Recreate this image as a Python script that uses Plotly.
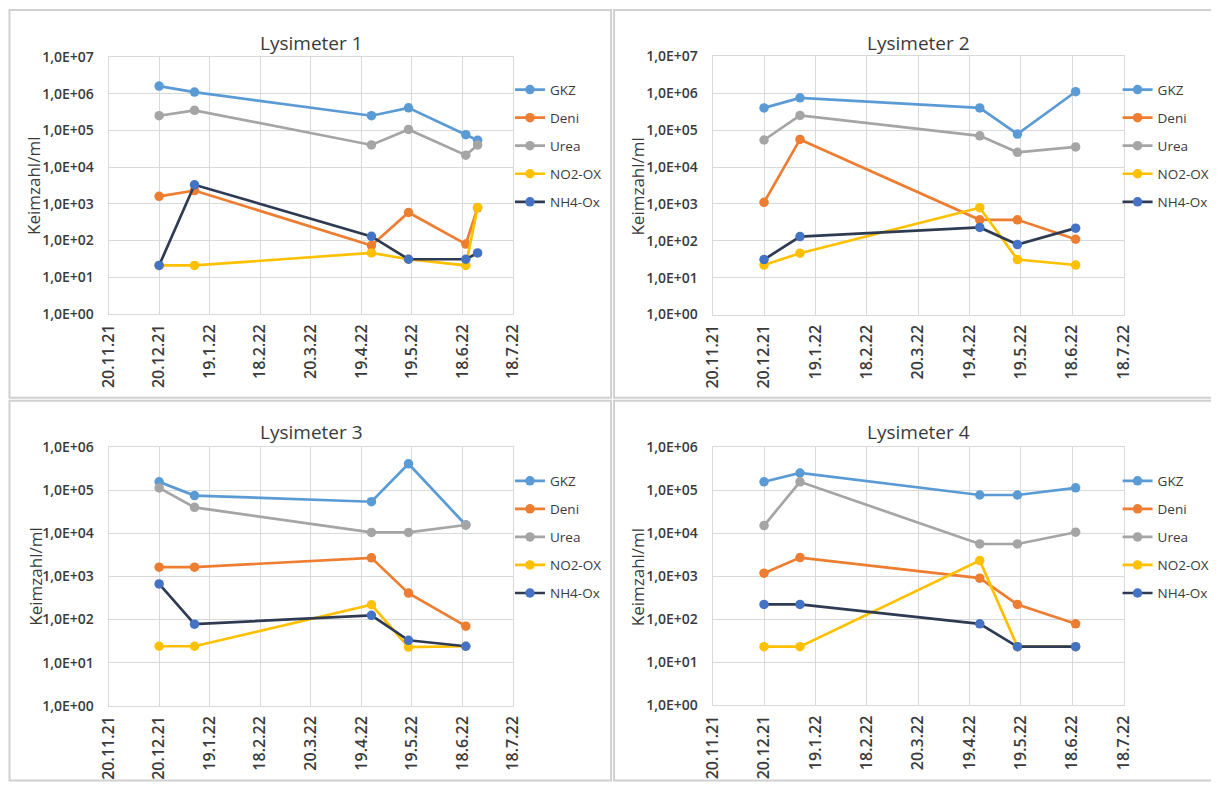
import plotly.graph_objects as go

# ---------------- data ----------------
series_names = ["GKZ", "Deni", "Urea", "NO2-OX", "NH4-Ox"]
line_colors = ["#5B9BD5", "#ED7D31", "#A5A5A5", "#FFC000", "#2F3B52"]
marker_colors = ["#5B9BD5", "#ED7D31", "#A5A5A5", "#FFC000", "#4472C4"]

tick_dates = ["2021-11-20", "2021-12-20", "2022-01-19", "2022-02-18", "2022-03-20",
              "2022-04-19", "2022-05-19", "2022-06-18", "2022-07-18"]
tick_labels = ["20.11.21", "20.12.21", "19.1.22", "18.2.22", "20.3.22",
               "19.4.22", "19.5.22", "18.6.22", "18.7.22"]

# Lysimeter 1
L1_dates = ["2021-12-20", "2022-01-10", "2022-04-25", "2022-05-17", "2022-06-20", "2022-06-27"]
L1_GKZ = [1.6e6, 1.1e6, 2.5e5, 4.1e5, 7.6e4, 5.4e4]
L1_Deni = [1.6e3, 2.3e3, 73, 5.8e2, 80, 7.8e2]
L1_Urea = [2.5e5, 3.5e5, 4.0e4, 1.06e5, 2.1e4, 4.0e4]
L1_NO2 = [21, 21, 46, 31, 21, 8.0e2]
L1_NH4 = [21, 3.3e3, 1.3e2, 31, 31, 46]

# Lysimeter 2
L2_dates = ["2021-12-20", "2022-01-10", "2022-04-25", "2022-05-17", "2022-06-20"]
L2_GKZ = [4.0e5, 7.5e5, 4.0e5, 7.8e4, 1.1e6]
L2_Deni = [1.1e3, 5.6e4, 3.7e2, 3.7e2, 1.1e2]
L2_Urea = [5.4e4, 2.5e5, 7.0e4, 2.5e4, 3.5e4]
L2_NO2 = [22, 46, 7.9e2, 31, 22]
L2_NH4 = [31, 1.3e2, 2.3e2, 79, 2.2e2]

# Lysimeter 3
L3_dates = ["2021-12-20", "2022-01-10", "2022-04-25", "2022-05-17", "2022-06-20"]
L3_GKZ = [1.56e5, 7.5e4, 5.4e4, 4.1e5, 1.56e4]
L3_Deni = [1.64e3, 1.64e3, 2.7e3, 4.1e2, 70]
L3_Urea = [1.13e5, 4.0e4, 1.05e4, 1.05e4, 1.56e4]
L3_NO2 = [24, 24, 2.2e2, 23, 24]
L3_NH4 = [6.7e2, 78, 1.25e2, 33, 24]

# Lysimeter 4
L4_dates = ["2021-12-20", "2022-01-10", "2022-04-25", "2022-05-17", "2022-06-20"]
L4_GKZ = [1.56e5, 2.5e5, 7.7e4, 7.7e4, 1.13e5]
L4_Deni = [1.17e3, 2.7e3, 9.0e2, 2.2e2, 78]
L4_Urea = [1.5e4, 1.56e5, 5.6e3, 5.6e3, 1.05e4]
L4_NO2 = [23, 23, 2.3e3, 23, 23]
L4_NH4 = [2.2e2, 2.2e2, 78, 23, 23]

titles = ["Lysimeter 1", "Lysimeter 2", "Lysimeter 3", "Lysimeter 4"]
y_max_exp = [7, 7, 6, 6]
y_title = "Keimzahl/ml"

panels = [
    (L1_dates, [L1_GKZ, L1_Deni, L1_Urea, L1_NO2, L1_NH4]),
    (L2_dates, [L2_GKZ, L2_Deni, L2_Urea, L2_NO2, L2_NH4]),
    (L3_dates, [L3_GKZ, L3_Deni, L3_Urea, L3_NO2, L3_NH4]),
    (L4_dates, [L4_GKZ, L4_Deni, L4_Urea, L4_NO2, L4_NH4]),
]

# ---------------- layout helpers (target pixel geometry) ----------------
W, H = 1219, 785
OX, SX, OY, SY = 17.5, 0.981, 17.0, 0.979  # page placement compensation
def fx(p):
    return ((p - OX) / SX) / W
def fy(p):
    return 1 - ((p - OY) / SY) / H

# plot areas in target pixels: (left, right, top, bottom)
areas = [(106, 510, 56, 314), (709.5, 1120, 55.5, 314.5),
         (106, 510, 447.5, 707), (709.5, 1120, 447.5, 706.5)]
# panel frames (left, right, top, bottom)
frames = [(7, 608, 9, 398), (611, 1212, 9, 398), (7, 608, 401, 782), (611, 1212, 401, 782)]
title_pos = [(309, 42), (915, 42), (309, 432), (915, 432)]
ytitle_pos = [(31, 186), (634, 186), (33, 578), (634, 578)]
legend_pos = [(507, 73.5), (1114, 73.5), (507, 466), (1114, 466)]

FONT = "Open Sans"
TXT = "#3A3A3A"
fig = go.Figure()
layout = dict(width=W, height=H, margin=dict(l=0, r=0, t=0, b=0),
              paper_bgcolor="white", plot_bgcolor="white", showlegend=True)
annotations = []
shapes = []

for i, (dates, vals) in enumerate(panels):
    k = "" if i == 0 else str(i + 1)
    leg = "legend" if i == 0 else "legend" + str(i + 1)
    for j, name in enumerate(series_names):
        fig.add_trace(go.Scatter(
            x=dates, y=vals[j], name=name, mode="lines+markers",
            line=dict(color=line_colors[j], width=2.7),
            marker=dict(color=marker_colors[j], size=9.5),
            xaxis="x" + k, yaxis="y" + k, legend=leg,
            legendgroup=name + str(i), showlegend=True,
        ))
    l, r, t, b = areas[i]
    layout["xaxis" + k] = dict(
        domain=[fx(l), fx(r)], anchor="y" + k, type="date",
        range=[tick_dates[0], tick_dates[-1]],
        tickmode="array", tickvals=tick_dates, ticktext=tick_labels,
        tickangle=-90, showgrid=True, gridcolor="#D9D9D9", gridwidth=1,
        showline=True, linecolor="#D9D9D9", linewidth=1, mirror=True,
        ticks="", zeroline=False, ticklabelstandoff=3,
        tickfont=dict(family=FONT, size=16, color=TXT, weight=600),
    )
    e = y_max_exp[i]
    layout["yaxis" + k] = dict(
        domain=[fy(b), fy(t)], anchor="x" + k, type="log",
        range=[0, e], tickmode="array",
        tickvals=[10 ** n for n in range(e + 1)],
        ticktext=["1,0E+%02d" % n for n in range(e + 1)],
        showgrid=True, gridcolor="#D9D9D9", gridwidth=1,
        showline=True, linecolor="#D9D9D9", linewidth=1, mirror=True,
        ticks="", zeroline=False, ticklabelstandoff=11,
        tickfont=dict(family=FONT, size=14, color=TXT, weight=600),
    )
    lx, ly = legend_pos[i]
    layout[leg] = dict(x=fx(lx), y=fy(ly), xanchor="left", yanchor="top",
                       bgcolor="rgba(0,0,0,0)", tracegroupgap=7.5,
                       font=dict(family=FONT, size=13.5, color=TXT),
                       itemwidth=30)
    tx, ty = title_pos[i]
    annotations.append(dict(text=titles[i], x=fx(tx), y=fy(ty), xref="paper", yref="paper",
                            showarrow=False, xanchor="center", yanchor="middle",
                            font=dict(family=FONT, size=19, color=TXT)))
    yx, yy = ytitle_pos[i]
    annotations.append(dict(text=y_title, x=fx(yx), y=fy(yy), xref="paper", yref="paper",
                            showarrow=False, xanchor="center", yanchor="middle", textangle=-90,
                            font=dict(family=FONT, size=17, color=TXT)))
    fl, fr, ft, fb = frames[i]
    shapes.append(dict(type="rect", xref="paper", yref="paper",
                       x0=fx(fl), x1=fx(fr), y0=fy(fb), y1=fy(ft),
                       line=dict(color="#D0D0D0", width=2), layer="below"))

layout["annotations"] = annotations
layout["shapes"] = shapes
fig.update_layout(**layout)
fig.write_html("out.html")
